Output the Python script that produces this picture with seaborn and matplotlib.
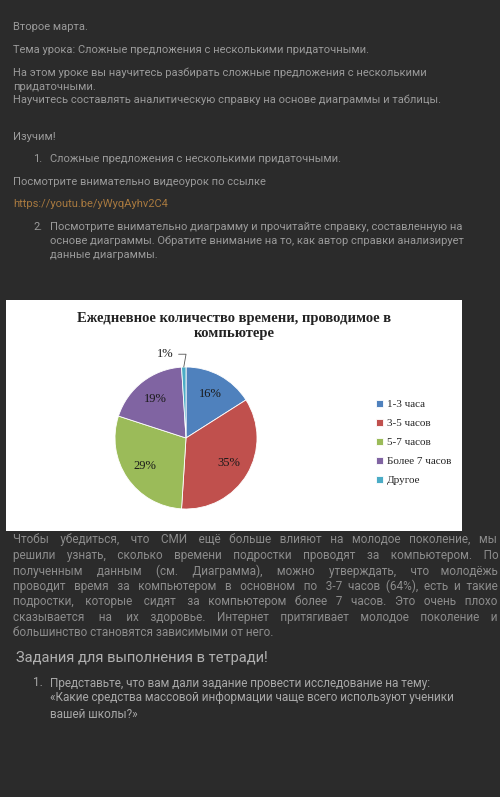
import numpy as np
import matplotlib
matplotlib.use('Agg')
import matplotlib.pyplot as plt
import seaborn as sns

# data
categories = ['1-3 часа', '3-5 часов', '5-7 часов', 'Более 7 часов', 'Другое']
shares = [16, 35, 29, 19, 1]
chart_title = 'Ежедневное количество времени, проводимое в\nкомпьютере'

sns.set_theme(style='white')
plt.rcParams['font.family'] = ['Roboto', 'DejaVu Sans']
colors = sns.color_palette(['#4F81BD', '#C0504D', '#9BBB59', '#8064A2', '#4BACC6'])

W, H = 500, 797
fig = plt.figure(figsize=(W / 100, H / 100), dpi=100)
fig.patch.set_facecolor('#2b2b2b')
renderer = fig.canvas.get_renderer()

def fx(x):
    return x / W

def fy(y):
    return 1 - y / H

def line(x, y, s, size=8, color='#9a9a9a', **kw):
    return fig.text(fx(x), fy(y), s, fontsize=size, color=color, va='center', ha='left', **kw)

def justified(x0, x1, y, s, size, color):
    # pad the gaps with extra spaces until the line fills the width
    words = s.split()
    gaps = [1] * (len(words) - 1)
    t = line(x0, y, s, size, color)
    k = 0
    while True:
        txt = words[0] + ''.join(' ' * g + w for g, w in zip(gaps, words[1:]))
        t.set_text(txt)
        if t.get_window_extent(renderer).width >= x1 - x0 - 2:
            break
        gaps[k % len(gaps)] += 1
        k += 1

# top text
line(13, 27, 'Второе марта.')
line(13, 50, 'Тема урока: Сложные предложения с несколькими придаточными.')
line(13, 73, 'На этом уроке вы научитесь разбирать сложные предложения с несколькими')
line(13, 87, 'придаточными.')
line(13, 100, 'Научитесь составлять аналитическую справку на основе диаграммы и таблицы.')
line(13, 137, 'Изучим!')
line(33, 159, '1.')
line(50, 159, 'Сложные предложения с несколькими придаточными.')
line(13, 182, 'Посмотрите внимательно видеоурок по ссылке')
line(13, 204, 'https://youtu.be/yWyqAyhv2C4', color='#a8793f')
line(33, 227, '2.')
line(50, 227, 'Посмотрите внимательно диаграмму и прочитайте справку, составленную на')
line(50, 241, 'основе диаграммы. Обратите внимание на то, как автор справки анализирует')
line(50, 255, 'данные диаграммы.')

# white chart box
box = fig.add_axes([fx(6), fy(531), fx(456), (531 - 300) / H])
box.set_facecolor('white')
box.set_xticks([])
box.set_yticks([])
for s in box.spines.values():
    s.set_visible(False)

fig.text(fx(234), fy(326), chart_title, ha='center', va='center', fontsize=10.5,
         fontweight='bold', family='Liberation Serif', color='#222222', linespacing=1.25)

r = 71
ax = fig.add_axes([fx(186 - r), fy(438 + r), fx(2 * r), 2 * r / H])
wedges, _, autotexts = ax.pie(
    shares, colors=colors, startangle=90, counterclock=False,
    autopct=lambda p: f'{p:.0f}%' if p >= 2 else '', pctdistance=0.7,
    wedgeprops=dict(edgecolor='white', linewidth=0.6),
    textprops=dict(family='Liberation Serif', fontsize=9, color='#1a1a1a'))
ax.set_xlim(-1, 1)
ax.set_ylim(-1, 1)
ax.set_aspect('auto')

# small slice label with leader
w = wedges[-1]
ang = np.deg2rad((w.theta1 + w.theta2) / 2)
ax.annotate(f'{shares[-1]}%', xy=(np.cos(ang), np.sin(ang)), xytext=(-0.17, 1.18),
            ha='right', va='center', fontsize=9, family='Liberation Serif', color='#1a1a1a',
            arrowprops=dict(arrowstyle='-', color='#555555', lw=0.6, shrinkA=1, shrinkB=0,
                            connectionstyle='angle,angleA=0,angleB=80'),
            annotation_clip=False)

leg = fig.legend(wedges, categories, loc='upper left', bbox_to_anchor=(fx(366), fy(390)),
                 frameon=False, handlelength=0.6, handleheight=0.6, handletextpad=0.35,
                 labelspacing=0.85, prop=dict(family='Liberation Serif', size=8))

# bottom text
para = [
    'Чтобы убедиться, что СМИ ещё больше влияют на молодое поколение, мы',
    'решили узнать, сколько времени подростки проводят за компьютером. По',
    'полученным данным (см. Диаграмма), можно утверждать, что молодёжь',
    'проводит время за компьютером в основном по 3-7 часов (64%), есть и такие',
    'подростки, которые сидят за компьютером более 7 часов. Это очень плохо',
    'сказывается на их здоровье. Интернет притягивает молодое поколение и',
    'большинство становятся зависимыми от него.',
]
for i, s in enumerate(para):
    y = 540 + i * 15.5
    if i < len(para) - 1:
        justified(13, 498, y, s, 8.5, '#8c8c8c')
    else:
        line(13, y, s, size=8.5, color='#8c8c8c')

line(16, 658, 'Задания для выполнения в тетради!', size=10.5, color='#b0b0b0')
line(33, 683, '1.', size=8.5, color='#a8a8a8')
line(50, 683, 'Представьте, что вам дали задание провести исследование на тему:', size=8.5, color='#a8a8a8')
line(50, 698, '«Какие средства массовой информации чаще всего используют ученики', size=8.5, color='#a8a8a8')
line(50, 714, 'вашей школы?»', size=8.5, color='#a8a8a8')

fig.savefig('out.png', dpi=100, facecolor=fig.get_facecolor())
